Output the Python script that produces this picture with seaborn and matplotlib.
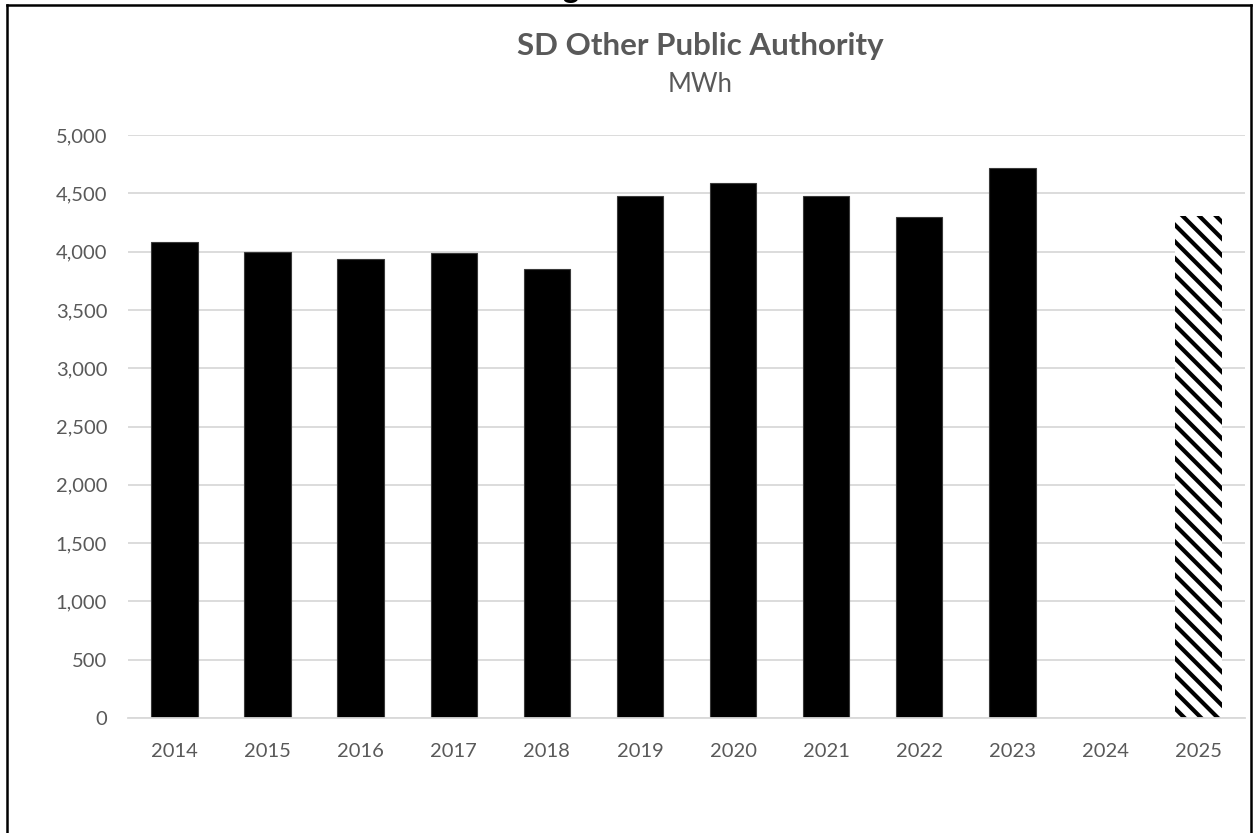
import matplotlib
matplotlib.use("Agg")
import matplotlib.pyplot as plt
import matplotlib.ticker as mticker
from matplotlib.lines import Line2D
import numpy as np
import pandas as pd
import seaborn as sns

# Annual consumption, MWh (2025 is a projection; 2024 has no value)
years = ["2014", "2015", "2016", "2017", "2018", "2019",
         "2020", "2021", "2022", "2023", "2024", "2025"]
mwh = [4080, 4000, 3937, 3986, 3855, 4477,
       4586, 4477, 4300, 4715, np.nan, 4305]
projected_year = "2025"

title = "SD Other Public Authority"
subtitle = "MWh"

sns.set_theme(style="white")
plt.rcParams["font.family"] = ["Lato", "DejaVu Sans"]
plt.rcParams["hatch.linewidth"] = 3.0

text_grey = "#595959"
grid_grey = "#d9d9d9"

W, H = 1255, 833
fig = plt.figure(figsize=(W / 100, H / 100), dpi=100)
ax = fig.add_axes([128 / W, 1 - 718 / H, (1245 - 128) / W, (718 - 135) / H])

df = pd.DataFrame({"year": years, "mwh": mwh})
sns.barplot(data=df, x="year", y="mwh", order=years, color="black",
            saturation=1, width=0.5, edgecolor="#3a3a3a", linewidth=0.8,
            errorbar=None, ax=ax)

# Projected year: white bar with black diagonal hatching
proj_idx = years.index(projected_year)
for bar in ax.patches:
    cx = bar.get_x() + bar.get_width() / 2
    if abs(cx - proj_idx) < 0.3:
        bar.set_facecolor("white")
        bar.set_edgecolor("black")
        bar.set_linewidth(0)
        bar.set_hatch("\\\\")

ax.set_xlim(-0.5, len(years) - 0.5)
ax.set_ylim(0, 5000)
ax.yaxis.set_major_locator(mticker.MultipleLocator(500))
ax.yaxis.set_major_formatter(mticker.FuncFormatter(lambda v, p: f"{v:,.0f}"))

ax.grid(axis="y", color=grid_grey, linewidth=1.3)
ax.set_axisbelow(True)
for side in ["top", "right", "left"]:
    ax.spines[side].set_visible(False)
ax.spines["bottom"].set_color(grid_grey)
ax.spines["bottom"].set_linewidth(1.3)

ax.set_xlabel("")
ax.set_ylabel("")
ax.tick_params(axis="both", length=0, labelsize=14.5, labelcolor=text_grey)
ax.tick_params(axis="x", pad=18)
ax.tick_params(axis="y", pad=15)

fig.text(700 / W, 1 - 55 / H, title, ha="center", va="baseline",
         fontsize=22.5, fontweight="bold", color=text_grey)
fig.text(700 / W, 1 - 92 / H, subtitle, ha="center", va="baseline",
         fontsize=18.5, color=text_grey)

# Descender of the heading that sits above the chart frame
fig.text(570 / W, 1 + 2 / H, "g", ha="center", va="baseline",
         fontsize=22, fontweight="bold", color="black")

# Chart frame (open at the bottom)
frame_kw = dict(transform=fig.transFigure, color="black", linewidth=1.8,
                solid_capstyle="projecting")
fig.add_artist(Line2D([6.5 / W, 6.5 / W], [0, 1 - 4.5 / H], **frame_kw))
fig.add_artist(Line2D([6.5 / W, 1250.5 / W], [1 - 4.5 / H, 1 - 4.5 / H], **frame_kw))
fig.add_artist(Line2D([1250.5 / W, 1250.5 / W], [0, 1 - 4.5 / H], **frame_kw))

fig.savefig("out.png", dpi=100)
